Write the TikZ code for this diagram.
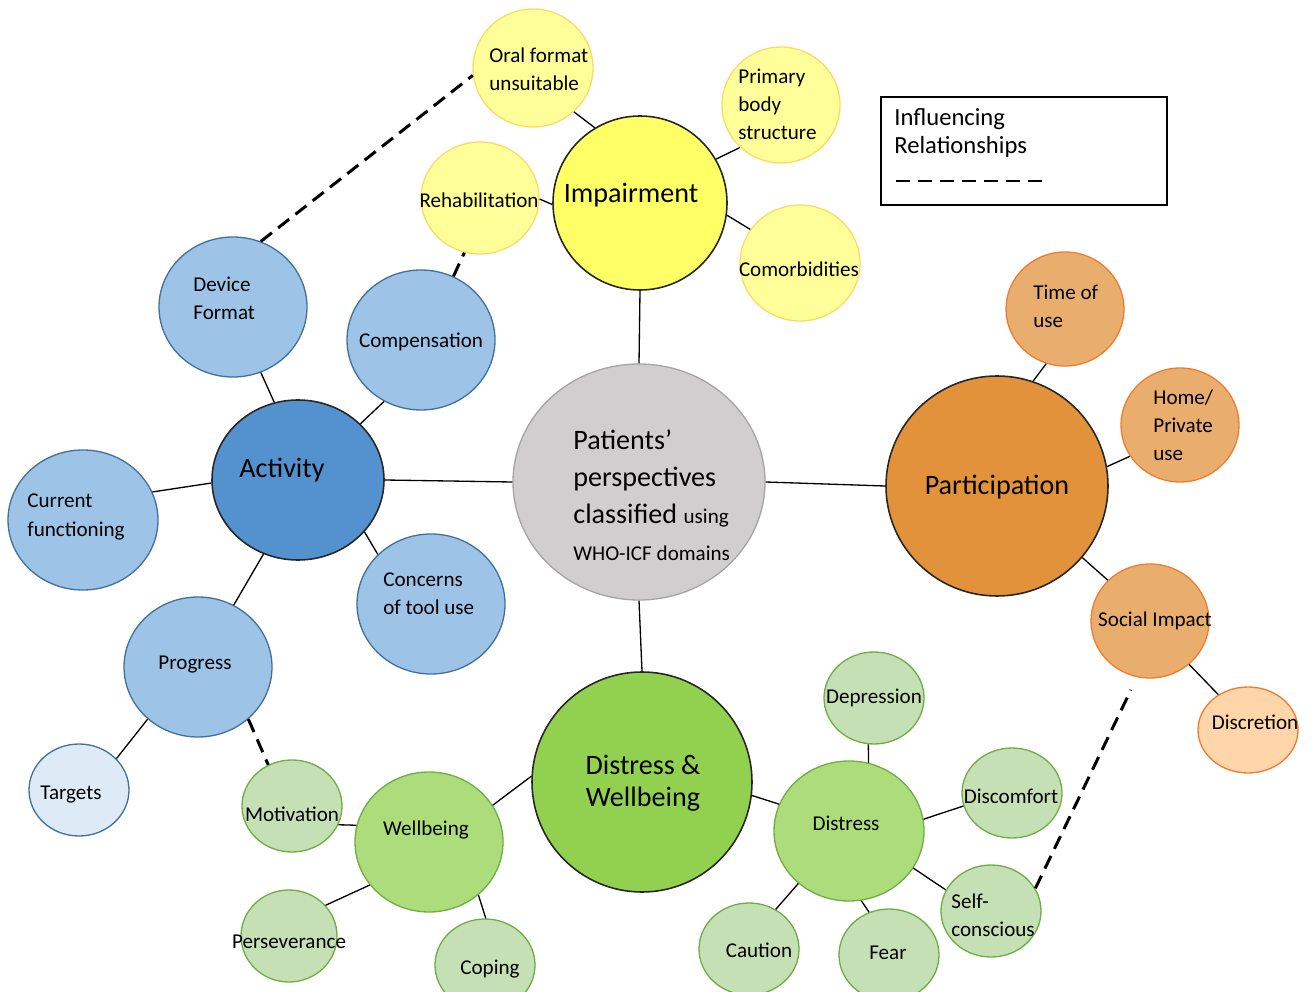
\documentclass[tikz,border=0pt]{standalone}
\usepackage{fontspec}
\setmainfont{Carlito}
\usetikzlibrary{shapes.geometric}

\definecolor{impYellow}{RGB}{255,255,102}
\definecolor{lightYellow}{RGB}{255,255,153}
\definecolor{yellowEdge}{RGB}{255,217,102}
\definecolor{actBlue}{RGB}{83,146,207}
\definecolor{midBlue}{RGB}{157,195,230}
\definecolor{paleBlue}{RGB}{222,235,247}
\definecolor{blueEdge}{RGB}{65,113,156}
\definecolor{centreGray}{RGB}{208,206,206}
\definecolor{grayEdge}{RGB}{165,165,165}
\definecolor{parOrange}{RGB}{226,146,58}
\definecolor{midOrange}{RGB}{233,174,110}
\definecolor{paleOrange}{RGB}{255,214,170}
\definecolor{orangeEdge}{RGB}{237,125,49}
\definecolor{dwGreen}{RGB}{146,208,80}
\definecolor{midGreen}{RGB}{173,220,122}
\definecolor{paleGreen}{RGB}{197,224,180}
\definecolor{greenEdge}{RGB}{112,173,71}
\definecolor{darkEdge}{RGB}{38,38,38}

\begin{document}
\begin{tikzpicture}[x=0.2mm, y=-0.2mm,
    bubble/.style 2 args={ellipse, inner sep=0pt, minimum width=#1*0.2mm, minimum height=#2*0.2mm},
    mainBubble/.style={draw=darkEdge, line width=0.9pt},
    leaf/.style={line width=0.75pt},
    bigTxt/.style={inner sep=0pt, font=\fontsize{16}{19}\selectfont},
    smallTxt/.style={inner sep=0pt, align=left, font=\fontsize{12}{16}\selectfont},
    link/.style={line width=0.75pt},
    influence/.style={line width=1.7pt, dash pattern=on 8pt off 4.5pt}]
\useasboundingbox (0,0) rectangle (1314,992);

\node[bubble={174}{174}, mainBubble, fill=impYellow] (impairment) at (640,203) {};
\node[bubble={120}{118}, leaf, fill=lightYellow, draw=yellowEdge] (oralFormat) at (533,68) {};
\node[bubble={118}{116}, leaf, fill=lightYellow, draw=yellowEdge] (primaryBody) at (781,105) {};
\node[bubble={118}{112}, leaf, fill=lightYellow, draw=yellowEdge] (rehabilitation) at (480,198) {};
\node[bubble={120}{116}, leaf, fill=lightYellow, draw=yellowEdge] (comorbidities) at (800,263) {};

\node[bubble={172}{160}, mainBubble, fill=actBlue] (activity) at (298,480) {};
\node[bubble={148}{140}, leaf, fill=midBlue, draw=blueEdge] (deviceFormat) at (233,307) {};
\node[bubble={148}{140}, leaf, fill=midBlue, draw=blueEdge] (compensation) at (421,340) {};
\node[bubble={150}{140}, leaf, fill=midBlue, draw=blueEdge] (currentFunctioning) at (83,520) {};
\node[bubble={148}{140}, leaf, fill=midBlue, draw=blueEdge] (concerns) at (431,604) {};
\node[bubble={148}{140}, leaf, fill=midBlue, draw=blueEdge] (progress) at (198,667) {};
\node[bubble={100}{92}, leaf, fill=paleBlue, draw=blueEdge] (targets) at (79,790) {};

\node[bubble={252}{236}, leaf, fill=centreGray, draw=grayEdge] (patients) at (639,482) {};

\node[bubble={222}{220}, mainBubble, fill=parOrange] (participation) at (997,486) {};
\node[bubble={118}{114}, leaf, fill=midOrange, draw=orangeEdge] (timeOfUse) at (1065,309) {};
\node[bubble={118}{114}, leaf, fill=midOrange, draw=orangeEdge] (homeUse) at (1180,425) {};
\node[bubble={118}{114}, leaf, fill=midOrange, draw=orangeEdge] (socialImpact) at (1150,621) {};
\node[bubble={100}{86}, leaf, fill=paleOrange, draw=orangeEdge] (discretion) at (1248,730) {};

\node[bubble={220}{220}, mainBubble, fill=dwGreen] (distressWellbeing) at (642,782) {};
\node[bubble={150}{140}, leaf, fill=midGreen, draw=greenEdge] (distress) at (849,831) {};
\node[bubble={100}{92}, leaf, fill=paleGreen, draw=greenEdge] (depression) at (874,698) {};
\node[bubble={100}{90}, leaf, fill=paleGreen, draw=greenEdge] (discomfort) at (1012,793) {};
\node[bubble={100}{92}, leaf, fill=paleGreen, draw=greenEdge] (selfConscious) at (991,911) {};
\node[bubble={100}{92}, leaf, fill=paleGreen, draw=greenEdge] (caution) at (749,949) {};
\node[bubble={100}{92}, leaf, fill=paleGreen, draw=greenEdge] (fear) at (889,955) {};
\node[bubble={148}{140}, leaf, fill=midGreen, draw=greenEdge] (wellbeing) at (429,842) {};
\node[bubble={100}{92}, leaf, fill=paleGreen, draw=greenEdge] (motivation) at (292,806) {};
\node[bubble={96}{92}, leaf, fill=paleGreen, draw=greenEdge] (perseverance) at (289,936) {};
\node[bubble={100}{92}, leaf, fill=paleGreen, draw=greenEdge] (coping) at (485,965) {};

\node[bigTxt] (impairmentText) at (631,195) {Impairment};
\node[smallTxt, anchor=west] (oralFormatText) at (489,69) {Oral format\\unsuitable};
\node[smallTxt, anchor=west] (primaryBodyText) at (738,104) {Primary\\body\\structure};
\node[smallTxt] (rehabilitationText) at (479,200) {Rehabilitation};
\node[smallTxt] (comorbiditiesText) at (799,269) {Comorbidities};

\node[bigTxt] (activityText) at (282,470) {Activity};
\node[smallTxt, anchor=west] (deviceFormatText) at (193,298) {Device\\Format};
\node[smallTxt] (compensationText) at (421,342) {Compensation};
\node[smallTxt, anchor=west] (currentFunctioningText) at (27,517) {Current\\functioning};
\node[smallTxt, anchor=west] (concernsText) at (383,594) {Concerns\\of tool use};
\node[smallTxt] (progressText) at (195,665) {Progress};
\node[smallTxt] (targetsText) at (71,795) {Targets};

\node[inner sep=0pt, align=left, anchor=west, font=\fontsize{16}{21}\selectfont] (patientsText) at (573,495)
    {Patients’\\perspectives\\classified {\fontsize{12}{21}\selectfont using}\\{\fontsize{12}{21}\selectfont WHO-ICF domains}};

\node[bigTxt] (participationText) at (997,487) {Participation};
\node[smallTxt, anchor=west] (timeOfUseText) at (1033,306) {Time of\\use};
\node[smallTxt, anchor=west] (homeUseText) at (1153,425) {Home/\\Private\\use};
\node[smallTxt] (socialImpactText) at (1155,621) {Social Impact};
\node[smallTxt] (discretionText) at (1255,722) {Discretion};

\node[bigTxt, align=center, font=\fontsize{16}{18}\selectfont] (distressWellbeingText) at (643,783) {Distress \&\\Wellbeing};
\node[smallTxt] (distressText) at (846,823) {Distress};
\node[smallTxt] (depressionText) at (874,698) {Depression};
\node[smallTxt] (discomfortText) at (1011,796) {Discomfort};
\node[smallTxt, anchor=west] (selfConsciousText) at (951,915) {Self-\\conscious};
\node[smallTxt] (cautionText) at (759,950) {Caution};
\node[smallTxt] (fearText) at (888,953) {Fear};
\node[smallTxt] (wellbeingText) at (426,830) {Wellbeing};
\node[smallTxt] (motivationText) at (292,814) {Motivation};
\node[smallTxt] (perseveranceText) at (289,942) {Perseverance};
\node[smallTxt] (copingText) at (490,969) {Coping};

\draw[link] (impairment.121) -- (oralFormat.313);
\draw[link] (impairment.30) -- (primaryBody.226);
\draw[link] (impairment.181) -- (rehabilitation.359);
\draw[link] (impairment.352) -- (comorbidities.146);
\draw[link] (impairment.south) -- (patients.north);
\draw[link] (activity.east) -- (patients.west);
\draw[link] (patients.east) -- (participation.west);
\draw[link] (patients.south) -- (distressWellbeing.north);

\draw[link] (activity.107) -- (deviceFormat.293);
\draw[link] (activity.42) -- (compensation.239);
\draw[link] (activity.182) -- (currentFunctioning.22);
\draw[link] (activity.322) -- (concerns.137);
\draw[link] (activity.245) -- (progress.60);
\draw[link] (progress.226) -- (targets.40);

\draw[link] (wellbeing.167) -- (motivation.338);
\draw[link] (wellbeing.216) -- (perseverance.40);
\draw[link] (wellbeing.313) -- (coping.89);
\draw[link] (wellbeing.30) -- (distressWellbeing.177);
\draw[link] (distressWellbeing.353) -- (distress.159);
\draw[link] (distress.74) -- (depression.263);
\draw[link] (distress.9) -- (discomfort.195);
\draw[link] (distress.330) -- (selfConscious.155);
\draw[link] (distress.226) -- (caution.56);
\draw[link] (distress.280) -- (fear.115);

\draw[link] (participation.71) -- (timeOfUse.251);
\draw[link] (participation.10) -- (homeUse.212);
\draw[link] (participation.320) -- (socialImpact.136);
\draw[link] (socialImpact.312) -- (discretion.130);

\draw[influence] (deviceFormat.67) -- (oralFormat.187);
\draw[influence] (compensation.63) -- (rehabilitation.254);
\draw[influence] (progress.314) -- (motivation.120);
\draw[influence, shorten >=2.8mm] (selfConscious.27) -- (socialImpact.257);

\node[draw, line width=0.75pt, inner sep=0pt, minimum width=286*0.2mm, minimum height=108*0.2mm] (legendBox) at (1024,151) {};
\node[inner sep=0pt, align=left, anchor=west, font=\fontsize{14}{16}\selectfont] (legendText) at (894,133) {Influencing\\Relationships};
\coordinate (legendStart) at (896,181);
\coordinate (legendEnd) at (1046,181);
\draw[influence] (legendStart) -- (legendEnd);

\end{tikzpicture}
\end{document}
